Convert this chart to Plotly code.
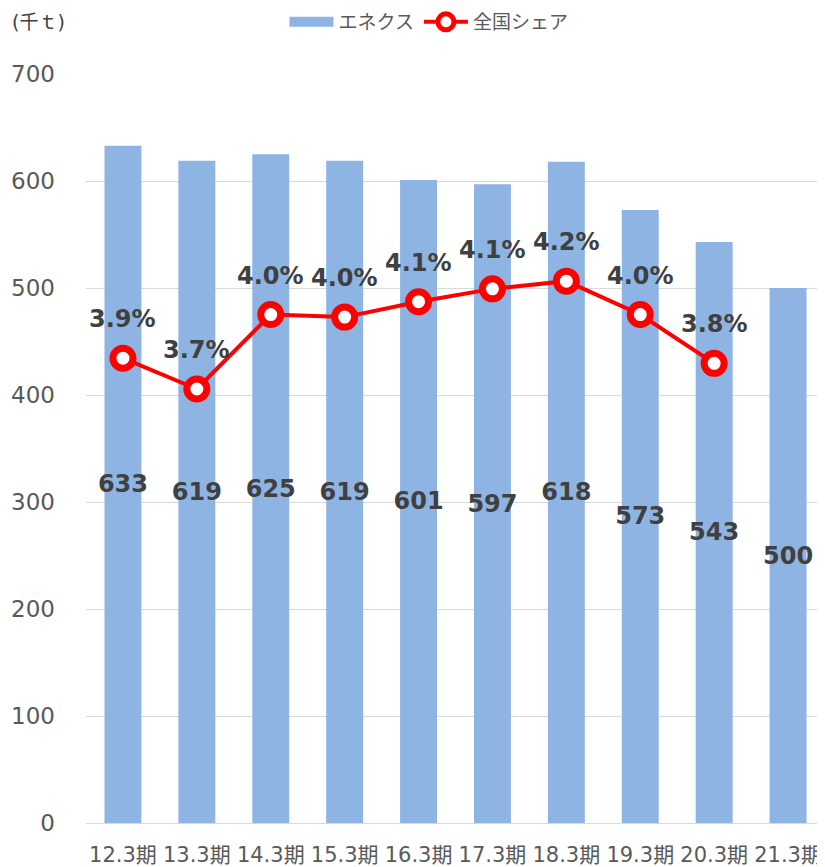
import plotly.graph_objects as go

categories = ["12.3期", "13.3期", "14.3期", "15.3期", "16.3期", "17.3期", "18.3期", "19.3期", "20.3期", "21.3期"]
volume = [633, 619, 625, 619, 601, 597, 618, 573, 543, 500]
share_cats = categories[:9]
share = [3.86, 3.74, 4.03, 4.02, 4.08, 4.13, 4.16, 4.03, 3.84]

FONT = "DejaVu Sans, Noto Sans CJK JP, sans-serif"
OFF = 8  # default page body margin
W, H = 825 - OFF, 867 - OFF
L, R, T, B = 86 - OFF, 0, 74 - OFF, 44
BAR_COLOR = "#8EB4E3"

fig = go.Figure()
fig.add_trace(go.Bar(
    x=categories, y=volume, name="エネクス", showlegend=False,
    marker=dict(color=BAR_COLOR, line=dict(width=0)),
    text=volume, textposition="inside", insidetextanchor="middle",
    constraintext="none", cliponaxis=False,
    textfont=dict(family=FONT, size=24, color="#404040", weight="bold"),
    textangle=0,
))
# legend swatch for the bars (wide rectangle like the original)
fig.add_trace(go.Scatter(
    x=[None], y=[None], name="エネクス", mode="lines",
    line=dict(color=BAR_COLOR, width=16),
))
fig.add_trace(go.Scatter(
    x=share_cats, y=share, name="全国シェア", yaxis="y2",
    mode="lines+markers", cliponaxis=False,
    line=dict(color="#FF0000", width=4),
    marker=dict(size=20, color="#FFFFFF", line=dict(color="#FF0000", width=7)),
))

annotations = []
for c, s in zip(share_cats, share):
    annotations.append(dict(
        x=c, y=s, xref="x", yref="y2", text=f"{s:.1f}%", showarrow=False,
        yshift=39, font=dict(family=FONT, size=24, color="#404040", weight="bold"),
    ))
annotations.append(dict(
    x=(2 - L) / (W - L - R), xanchor="left", y=1 + (T - 14) / (H - T - B), yanchor="middle",
    xref="paper", yref="paper", text="(千ｔ)", showarrow=False,
    font=dict(family=FONT, size=19, color="#404040"),
))

fig.update_layout(
    template="none",
    width=W, height=H,
    margin=dict(l=L, r=R, t=T, b=B, autoexpand=False),
    plot_bgcolor="white", paper_bgcolor="white",
    bargap=0.5,
    font=dict(family=FONT, color="#595959"),
    showlegend=True,
    legend=dict(orientation="h", xref="container", yref="container",
                x=421 / W, xanchor="center", y=1 - 14 / H, yanchor="middle",
                font=dict(family=FONT, size=19, color="#595959"),
                tracegroupgap=0, itemwidth=44),
    xaxis=dict(range=[-0.5, len(categories) - 0.5], autorange=False,
               showgrid=False, showline=True, linecolor="#D9D9D9", linewidth=1,
               tickfont=dict(family=FONT, size=21, color="#595959"),
               ticks="", ticklabelstandoff=13, automargin=False),
    yaxis=dict(range=[0, 700], dtick=100, showgrid=True, gridcolor="#D9D9D9", gridwidth=1,
               zeroline=False, showline=False, ticks="",
               tickfont=dict(family=FONT, size=23, color="#595959"),
               ticklabelstandoff=30, automargin=False),
    yaxis2=dict(range=[2.05, 2.05 + 700 / 240], overlaying="y", side="right",
                visible=False, showgrid=False, automargin=False),
    annotations=annotations,
)

fig.write_html("out.html")
